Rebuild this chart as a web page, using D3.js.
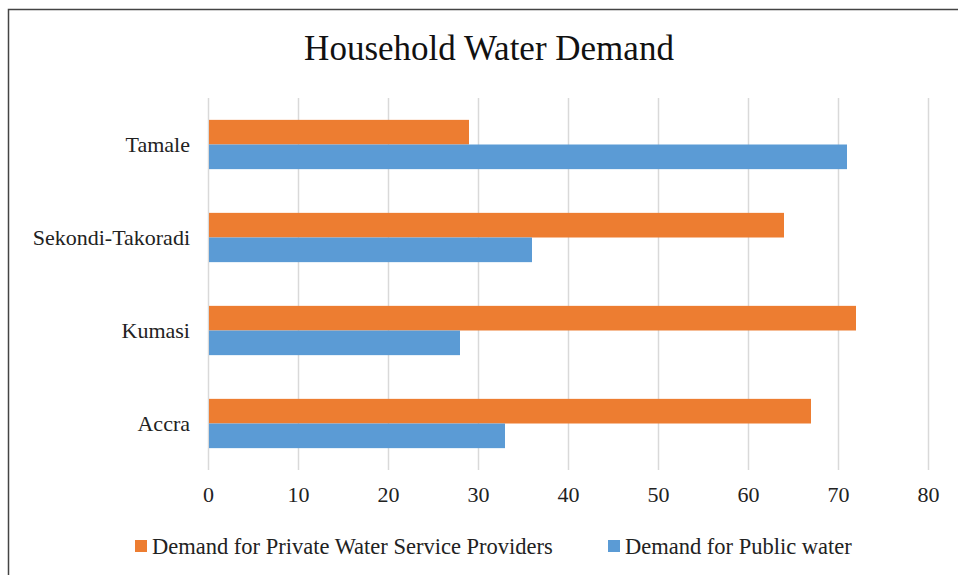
<!DOCTYPE html>
<html>
<head>
<meta charset="utf-8">
<script src="https://cdn.jsdelivr.net/npm/d3@7"></script>
<style>
  body { margin: 0; background: #fff; }
  svg { display: block; font-family: "Liberation Serif", "Times New Roman", serif; }
</style>
</head>
<body>
<svg></svg>
<script>
  // chart data
  var cities = ["Tamale", "Sekondi-Takoradi", "Kumasi", "Accra"];
  var privateDemand = [29, 64, 72, 67];
  var publicDemand = [71, 36, 28, 33];
  var seriesNames = ["Demand for Private Water Service Providers", "Demand for Public water"];
  var xTicks = [0, 10, 20, 30, 40, 50, 60, 70, 80];

  var width = 958, height = 575;
  var colors = ["#ED7D31", "#5B9BD5"];
  var serif = '"Liberation Serif", "Times New Roman", serif';

  var svg = d3.select("svg")
              .attr("width", width)
              .attr("height", height);

  // frame around the chart
  svg.append("rect")
     .attr("x", 8.5).attr("y", 9.5)
     .attr("width", 960).attr("height", 580)
     .attr("fill", "#fff")
     .attr("stroke", "#444")
     .attr("stroke-width", 1.5);

  var plotLeft = 208, plotRight = 928, plotTop = 98, plotBottom = 470;

  var xScale = d3.scaleLinear().domain([0, 80]).range([plotLeft, plotRight]);
  var yScale = d3.scaleBand().domain(cities).range([plotTop, plotBottom]).paddingInner(0.47).paddingOuter(0.235);
  var inner = d3.scaleBand().domain([0, 1]).range([0, yScale.bandwidth()]);

  // vertical gridlines
  svg.append("g")
     .selectAll("line")
     .data(xTicks)
     .enter().append("line")
       .attr("x1", d => xScale(d) + 0.5)
       .attr("x2", d => xScale(d) + 0.5)
       .attr("y1", plotTop)
       .attr("y2", plotBottom)
       .attr("stroke", "#d9d9d9")
       .attr("stroke-width", 1.5);

  var rows = cities.map((c, i) => ({ city: c, values: [privateDemand[i], publicDemand[i]] }));

  var groups = svg.append("g")
     .selectAll("g")
     .data(rows)
     .enter().append("g")
       .attr("transform", d => `translate(0,${yScale(d.city)})`);

  groups.selectAll("rect")
     .data(d => d.values)
     .enter().append("rect")
       .attr("x", xScale(0) + 1)
       .attr("y", (d, i) => inner(i))
       .attr("width", d => xScale(d) - xScale(0) - 1)
       .attr("height", inner.bandwidth())
       .attr("fill", (d, i) => colors[i]);

  // x tick labels
  var xAxis = d3.axisBottom(xScale).tickValues(xTicks).tickSize(0).tickPadding(16);
  var gx = svg.append("g")
     .attr("transform", `translate(0,${plotBottom})`)
     .call(xAxis);
  gx.select(".domain").remove();
  gx.selectAll("text")
    .style("font-family", serif)
    .style("font-size", "22px")
    .attr("fill", "#222");

  // category labels
  var yAxis = d3.axisLeft(yScale).tickSize(0).tickPadding(18);
  var gy = svg.append("g")
     .attr("transform", `translate(${plotLeft},0)`)
     .call(yAxis);
  gy.select(".domain").remove();
  gy.selectAll("text")
    .style("font-family", serif)
    .style("font-size", "22px")
    .attr("fill", "#222");

  // title
  svg.append("text")
     .attr("x", 489)
     .attr("y", 60)
     .style("text-anchor", "middle")
     .style("font-size", "35px")
     .attr("fill", "#111")
     .text("Household Water Demand");

  // legend
  var legendX = [135, 608];
  var legend = svg.append("g")
     .selectAll("g")
     .data(seriesNames)
     .enter().append("g")
       .attr("transform", (d, i) => `translate(${legendX[i]},547)`);
  legend.append("rect")
     .attr("x", 0).attr("y", -7)
     .attr("width", 12).attr("height", 12)
     .attr("fill", (d, i) => colors[i]);
  legend.append("text")
     .attr("x", 17)
     .attr("y", 7)
     .style("font-size", "22.5px")
     .attr("fill", "#222")
     .text(d => d);
</script>
</body>
</html>
